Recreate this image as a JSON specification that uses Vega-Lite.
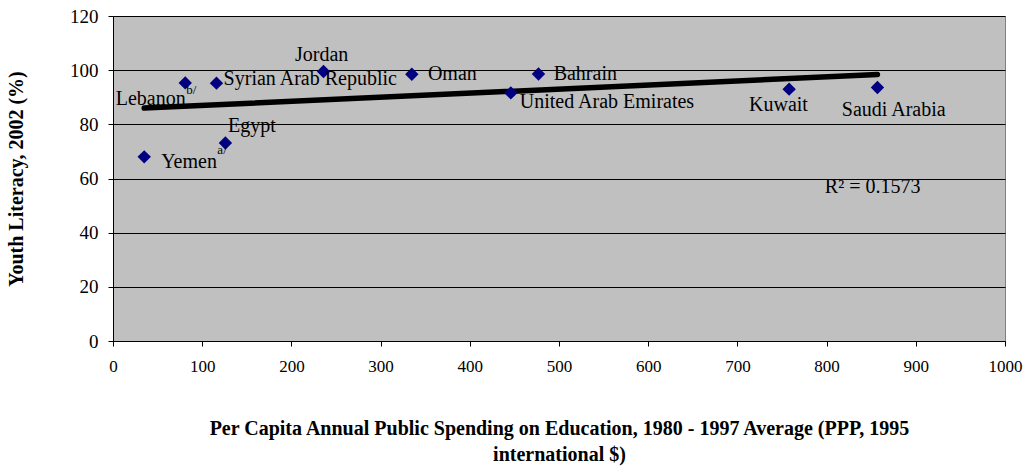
{
  "$schema": "https://vega.github.io/schema/vega-lite/v6.json",
  "width": 892,
  "height": 325,
  "autosize": "none",
  "padding": {"left": 113, "top": 16, "right": 21, "bottom": 129},
  "background": "white",
  "config": {
    "view": {"fill": "#C0C0C0", "stroke": "#808080", "strokeWidth": 1},
    "font": "'Liberation Serif', serif"
  },
  "datasets": {
    "points": [
      {"country": "Yemen", "spending": 35, "literacy": 68},
      {"country": "Lebanon", "spending": 81, "literacy": 95.3},
      {"country": "Syrian Arab Republic", "spending": 116, "literacy": 95.2},
      {"country": "Egypt", "spending": 126, "literacy": 73.1},
      {"country": "Jordan", "spending": 236, "literacy": 99.5},
      {"country": "Oman", "spending": 335, "literacy": 98.5},
      {"country": "Bahrain", "spending": 477, "literacy": 98.6},
      {"country": "United Arab Emirates", "spending": 446, "literacy": 91.6},
      {"country": "Kuwait", "spending": 758, "literacy": 93},
      {"country": "Saudi Arabia", "spending": 857, "literacy": 93.6}
    ],
    "trend": [
      {"spending": 35, "literacy": 86.0},
      {"spending": 857, "literacy": 98.4}
    ],
    "labels": [
      {"text": "Lebanon", "lx": 3, "ly": 89.4, "kind": "main"},
      {"text": "Syrian Arab Republic", "lx": 124, "ly": 96.8, "kind": "main"},
      {"text": "Jordan", "lx": 204, "ly": 105.6, "kind": "main"},
      {"text": "Oman", "lx": 353, "ly": 98.6, "kind": "main"},
      {"text": "Bahrain", "lx": 494, "ly": 98.6, "kind": "main"},
      {"text": "United Arab Emirates", "lx": 456, "ly": 88.3, "kind": "main"},
      {"text": "Kuwait", "lx": 713, "ly": 87.1, "kind": "main"},
      {"text": "Saudi Arabia", "lx": 817, "ly": 85.3, "kind": "main"},
      {"text": "Egypt", "lx": 129, "ly": 79.4, "kind": "main"},
      {"text": "Yemen", "lx": 54, "ly": 66.1, "kind": "main"},
      {"text": "R² = 0.1573", "lx": 798, "ly": 56.9, "kind": "main"},
      {"text": "b/", "lx": 82, "ly": 92.6, "kind": "sup"},
      {"text": "a/", "lx": 117, "ly": 70.6, "kind": "sup"}
    ]
  },
  "layer": [
    {
      "data": {"name": "trend"},
      "mark": {"type": "line", "color": "black", "strokeWidth": 5.5, "strokeCap": "round"},
      "encoding": {
        "x": {
          "field": "spending", "type": "quantitative",
          "scale": {"domain": [0, 1000], "nice": false},
          "axis": {
            "values": [0,100,200,300,400,500,600,700,800,900,1000],
            "format": "d",
            "grid": false, "domain": true, "domainColor": "black",
            "ticks": true, "tickColor": "black", "tickSize": 5,
            "labelFont": "'Liberation Serif', serif", "labelFontSize": 17, "labelColor": "black",
            "labelPadding": 12, "labelFlush": false,
            "title": ["Per Capita Annual Public Spending on Education, 1980 - 1997 Average (PPP, 1995", "international $)"],
            "titleFont": "'Liberation Serif', serif", "titleFontSize": 20, "titleFontWeight": "bold", "titleColor": "black",
            "titlePadding": 44, "titleLineHeight": 26
          }
        },
        "y": {
          "field": "literacy", "type": "quantitative",
          "scale": {"domain": [0, 120], "nice": false},
          "axis": {
            "values": [0,20,40,60,80,100,120],
            "grid": true, "gridColor": "black", "gridOpacity": 1, "gridWidth": 1,
            "domain": true, "domainColor": "black",
            "ticks": true, "tickColor": "black", "tickSize": 5,
            "labelFont": "'Liberation Serif', serif", "labelFontSize": 19, "labelColor": "black",
            "labelPadding": 10,
            "title": "Youth Literacy, 2002 (%)",
            "titleFont": "'Liberation Serif', serif", "titleFontSize": 20, "titleFontWeight": "bold", "titleColor": "black",
            "titlePadding": 43
          }
        }
      }
    },
    {
      "data": {"name": "points"},
      "mark": {"type": "point", "shape": "diamond", "filled": true, "color": "#000080", "size": 180, "opacity": 1},
      "encoding": {
        "x": {"field": "spending", "type": "quantitative"},
        "y": {"field": "literacy", "type": "quantitative"}
      }
    },
    {
      "data": {"name": "labels"},
      "transform": [{"filter": "datum.kind === 'main'"}],
      "mark": {"type": "text", "align": "left", "baseline": "middle", "font": "'Liberation Serif', serif", "fontSize": 20, "color": "black"},
      "encoding": {
        "x": {"field": "lx", "type": "quantitative"},
        "y": {"field": "ly", "type": "quantitative"},
        "text": {"field": "text"}
      }
    },
    {
      "data": {"name": "labels"},
      "transform": [{"filter": "datum.kind === 'sup'"}],
      "mark": {"type": "text", "align": "left", "baseline": "middle", "font": "'Liberation Serif', serif", "fontSize": 13, "color": "black"},
      "encoding": {
        "x": {"field": "lx", "type": "quantitative"},
        "y": {"field": "ly", "type": "quantitative"},
        "text": {"field": "text"}
      }
    }
  ]
}
